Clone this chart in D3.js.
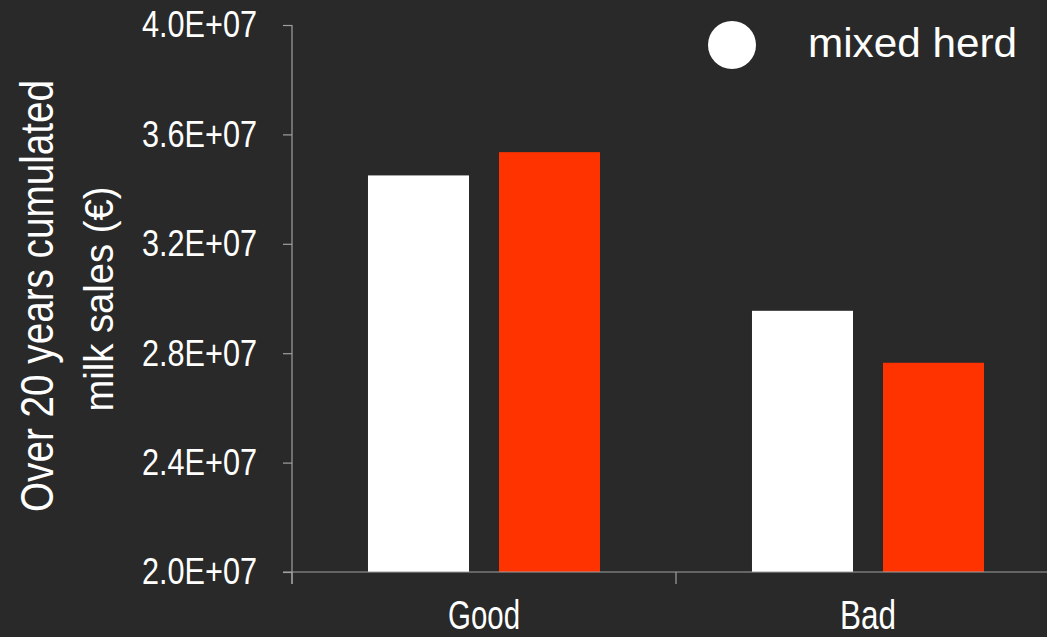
<!DOCTYPE html>
<html>
<head>
<meta charset="utf-8">
<script src="https://cdn.jsdelivr.net/npm/d3@7"></script>
<style>
  html, body { margin: 0; padding: 0; background: #292929; }
  svg { display: block; }
  text { font-family: "Liberation Sans", Arial, sans-serif; fill: #ffffff; }
</style>
</head>
<body>
<svg id="chart" width="1047" height="637"></svg>
<script>
const categories = ["Good", "Bad"];
const seriesNames = ["mixed herd", "second herd"];
const mixedHerd = [3.45e7, 2.955e7];
const secondHerd = [3.535e7, 2.765e7];
const yTicks = [2.0e7, 2.4e7, 2.8e7, 3.2e7, 3.6e7, 4.0e7];
const yTickLabels = ["2.0E+07", "2.4E+07", "2.8E+07", "3.2E+07", "3.6E+07", "4.0E+07"];
const yTitleLines = ["Over 20 years cumulated", "milk sales (€)"];

const colors = ["#ffffff", "#ff3300"];
const svg = d3.select("#chart");
svg.append("rect").attr("width", 1047).attr("height", 637).attr("fill", "#292929");

const y = d3.scaleLinear().domain([2.0e7, 4.0e7]).range([572, 25]);
const x = d3.scaleBand().domain(categories).range([292, 1060]).padding(0);
const xi = d3.scaleBand().domain(seriesNames).range([0, x.bandwidth()])
  .paddingInner(0.229).paddingOuter(0.58);

const rows = categories.map((c, i) => ({ cat: c, vals: [mixedHerd[i], secondHerd[i]] }));

// bars
const g = svg.append("g");
rows.forEach(r => {
  r.vals.forEach((v, j) => {
    g.append("rect")
      .attr("x", x(r.cat) + xi(seriesNames[j]))
      .attr("y", y(v))
      .attr("width", xi.bandwidth())
      .attr("height", y(2.0e7) - y(v))
      .attr("fill", colors[j]);
  });
});

const axisColor = "#a0a0a0";

// y axis
const yAxis = d3.axisLeft(y).tickValues(yTicks)
  .tickFormat((d, i) => yTickLabels[i])
  .tickSize(9).tickSizeOuter(0).tickPadding(26);
const ya = svg.append("g").attr("transform", "translate(292,0)").call(yAxis);
ya.select(".domain").remove();
ya.selectAll(".tick line").attr("stroke", axisColor).attr("stroke-width", 1.2);
ya.selectAll(".tick text")
  .attr("font-size", 37)
  .attr("fill", "#ffffff")
  .attr("textLength", 115)
  .attr("lengthAdjust", "spacingAndGlyphs")
  .style("font-family", "'Liberation Sans', Arial, sans-serif");
svg.append("line").attr("x1", 292).attr("x2", 292)
  .attr("y1", y(4.0e7)).attr("y2", y(2.0e7) + 12)
  .attr("stroke", axisColor).attr("stroke-width", 1.2);

// x axis
svg.append("line").attr("x1", 283).attr("x2", 1047)
  .attr("y1", y(2.0e7)).attr("y2", y(2.0e7))
  .attr("stroke", axisColor).attr("stroke-width", 1.2);
categories.forEach(c => {
  svg.append("line").attr("x1", x(c)).attr("x2", x(c))
    .attr("y1", y(2.0e7)).attr("y2", y(2.0e7) + 12)
    .attr("stroke", axisColor).attr("stroke-width", 1.2);
  svg.append("text")
    .attr("x", x(c) + x.bandwidth() / 2)
    .attr("y", 629)
    .attr("text-anchor", "middle")
    .attr("font-size", 40)
    .attr("textLength", c === "Good" ? 72 : 56)
    .attr("lengthAdjust", "spacingAndGlyphs")
    .text(c);
});

// y title
svg.append("text")
  .attr("transform", "translate(53,296) rotate(-90)")
  .attr("text-anchor", "middle")
  .attr("font-size", 47)
  .attr("textLength", 432)
  .attr("lengthAdjust", "spacingAndGlyphs")
  .text(yTitleLines[0]);
svg.append("text")
  .attr("transform", "translate(113,299) rotate(-90)")
  .attr("text-anchor", "middle")
  .attr("font-size", 40)
  .attr("textLength", 225)
  .attr("lengthAdjust", "spacingAndGlyphs")
  .text(yTitleLines[1]);

// legend
svg.append("circle").attr("cx", 732).attr("cy", 45).attr("r", 24).attr("fill", colors[0]);
svg.append("text")
  .attr("x", 808).attr("y", 57)
  .attr("font-size", 41)
  .attr("textLength", 209)
  .attr("lengthAdjust", "spacingAndGlyphs")
  .text(seriesNames[0]);
</script>
</body>
</html>
